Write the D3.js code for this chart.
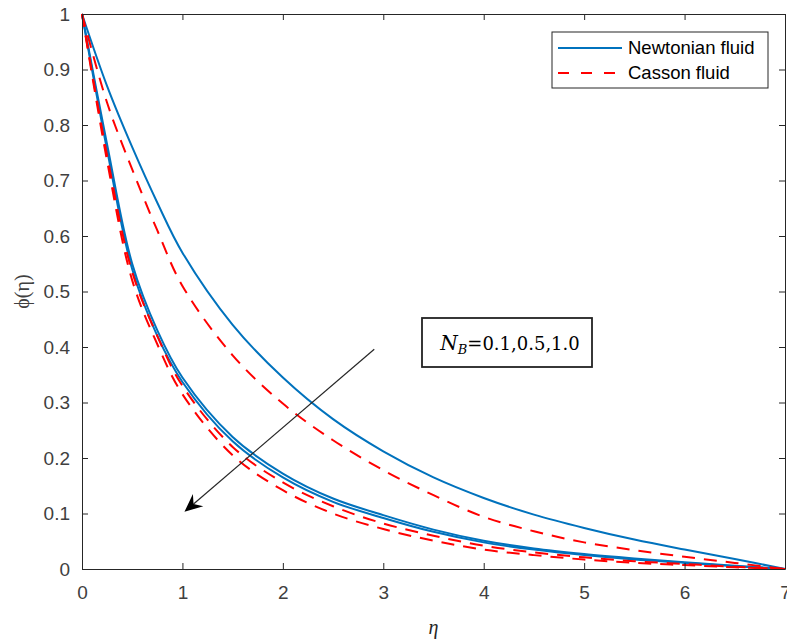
<!DOCTYPE html>
<html>
<head>
<meta charset="utf-8">
<script src="https://cdn.jsdelivr.net/npm/d3@7"></script>
<style>
  body { margin: 0; background: #fff; }
  svg { display: block; }
</style>
</head>
<body>
<svg id="chart" width="787" height="643"></svg>
<script>
// data
const eta = [0, 0.25, 0.5, 0.75, 1, 1.5, 2, 2.5, 3, 3.5, 4, 4.5, 5, 5.5, 6, 6.5, 7];

const newtonianNB01 = [1, 0.87, 0.76, 0.66, 0.57, 0.44, 0.345, 0.27, 0.212, 0.165, 0.128, 0.098, 0.074, 0.053, 0.035, 0.018, 0];
const newtonianNB05 = [1, 0.765, 0.55, 0.43, 0.345, 0.238, 0.172, 0.127, 0.097, 0.071, 0.051, 0.037, 0.027, 0.019, 0.012, 0.006, 0];
const newtonianNB10 = [1, 0.755, 0.54, 0.42, 0.337, 0.23, 0.165, 0.121, 0.092, 0.067, 0.048, 0.035, 0.025, 0.017, 0.011, 0.005, 0];

const cassonNB01 = [1, 0.84, 0.72, 0.61, 0.51, 0.385, 0.298, 0.232, 0.178, 0.133, 0.094, 0.068, 0.048, 0.034, 0.022, 0.011, 0];
const cassonNB05 = [1, 0.745, 0.535, 0.42, 0.33, 0.22, 0.156, 0.113, 0.082, 0.06, 0.042, 0.03, 0.021, 0.014, 0.009, 0.004, 0];
const cassonNB10 = [1, 0.735, 0.52, 0.405, 0.315, 0.205, 0.142, 0.10, 0.072, 0.051, 0.035, 0.025, 0.017, 0.011, 0.007, 0.003, 0];

const xTicks = [0, 1, 2, 3, 4, 5, 6, 7];
const yTicks = [0, 0.1, 0.2, 0.3, 0.4, 0.5, 0.6, 0.7, 0.8, 0.9, 1];

const legendLabels = ['Newtonian fluid', 'Casson fluid'];
// arrow in data coords [eta, phi]
const arrowFrom = [2.91, 0.396];
const arrowTo = [1.02, 0.103];

const blue = '#0072BD';
const red = '#FF0000';
const axisColor = '#262626';
const tickTextColor = '#404040';

const svg = d3.select('#chart');
const margin = { left: 82, right: 2, top: 14, bottom: 74 };
const width = 787, height = 643;

const x = d3.scaleLinear().domain([0, 7]).range([margin.left, width - margin.right]);
const y = d3.scaleLinear().domain([0, 1]).range([height - margin.bottom, margin.top]);

const plotG = svg.append('g');

// curves
const line = d3.line()
    .x(d => x(d[0]))
    .y(d => y(d[1]))
    .curve(d3.curveCatmullRom.alpha(0.5));

const series = [
    { vals: newtonianNB01, color: blue, dash: null },
    { vals: newtonianNB05, color: blue, dash: null },
    { vals: newtonianNB10, color: blue, dash: null },
    { vals: cassonNB01, color: red, dash: '13,9' },
    { vals: cassonNB05, color: red, dash: '13,9' },
    { vals: cassonNB10, color: red, dash: '13,9' },
];

plotG.selectAll('path.curve')
    .data(series)
    .join('path')
    .attr('class', 'curve')
    .attr('fill', 'none')
    .attr('stroke', d => d.color)
    .attr('stroke-width', 2)
    .attr('stroke-dasharray', d => d.dash)
    .attr('d', d => line(eta.map((e, i) => [e, d.vals[i]])));

// axes, ticks inward, box on
const tickLen = 6;
const fontSize = 19;

const styleAxis = g => {
    g.select('.domain').attr('stroke', axisColor).attr('stroke-width', 1);
    g.selectAll('.tick line').attr('stroke', axisColor);
    g.selectAll('.tick text')
        .attr('fill', tickTextColor)
        .style('font-family', 'Liberation Sans, Arial, sans-serif')
        .style('font-size', fontSize + 'px');
};

svg.append('g')
    .attr('transform', `translate(0, ${y(0)})`)
    .call(d3.axisBottom(x).tickValues(xTicks).tickFormat(d3.format('d'))
        .tickSizeInner(-tickLen).tickSizeOuter(0).tickPadding(17))
    .call(styleAxis);

svg.append('g')
    .attr('transform', `translate(${x(0)}, 0)`)
    .call(d3.axisLeft(y).tickValues(yTicks).tickFormat(d => d3.format('~g')(d))
        .tickSizeInner(-tickLen).tickSizeOuter(0).tickPadding(12))
    .call(styleAxis);

svg.append('g')
    .attr('transform', `translate(0, ${y(1)})`)
    .call(d3.axisTop(x).tickValues(xTicks).tickFormat('')
        .tickSizeInner(-tickLen).tickSizeOuter(0))
    .call(styleAxis);

svg.append('g')
    .attr('transform', `translate(${x(7)}, 0)`)
    .call(d3.axisRight(y).tickValues(yTicks).tickFormat('')
        .tickSizeInner(-tickLen).tickSizeOuter(0))
    .call(styleAxis);

// axis labels
svg.append('text')
    .attr('x', (x(0) + x(7)) / 2)
    .attr('y', 634)
    .attr('text-anchor', 'middle')
    .attr('fill', axisColor)
    .style('font-family', 'Liberation Serif, Times New Roman, serif')
    .style('font-style', 'italic')
    .style('font-size', '20px')
    .text('η');

svg.append('text')
    .attr('transform', `translate(29, ${(y(0) + y(1)) / 2}) rotate(-90)`)
    .attr('text-anchor', 'middle')
    .attr('fill', tickTextColor)
    .style('font-family', 'Liberation Serif, Times New Roman, serif')
    .style('font-size', '20px')
    .text('ϕ(η)');

// legend
const legG = svg.append('g').attr('transform', 'translate(552, 32)');
legG.append('rect')
    .attr('width', 216).attr('height', 56)
    .attr('fill', '#fff')
    .attr('stroke', axisColor)
    .attr('stroke-width', 1);
legendLabels.forEach((lab, i) => {
    const ly = 16 + i * 25;
    legG.append('line')
        .attr('x1', 6).attr('x2', 70)
        .attr('y1', ly).attr('y2', ly)
        .attr('stroke', i === 0 ? blue : red)
        .attr('stroke-width', 2)
        .attr('stroke-dasharray', i === 0 ? null : '11,12');
    legG.append('text')
        .attr('x', 76).attr('y', ly)
        .attr('dy', '0.35em')
        .attr('fill', '#000')
        .style('font-family', 'Liberation Sans, Arial, sans-serif')
        .style('font-size', '18.5px')
        .text(lab);
});

// arrow annotation
const ax1 = x(arrowFrom[0]), ay1 = y(arrowFrom[1]);
const ax2 = x(arrowTo[0]), ay2 = y(arrowTo[1]);
const ang = Math.atan2(ay2 - ay1, ax2 - ax1);
const headLen = 18, headW = 8, notch = 6;
svg.append('line')
    .attr('x1', ax1).attr('y1', ay1)
    .attr('x2', ax2 - Math.cos(ang) * (headLen - notch)).attr('y2', ay2 - Math.sin(ang) * (headLen - notch))
    .attr('stroke', axisColor)
    .attr('stroke-width', 1.2);
const rot = (px, py) => [ax2 + px * Math.cos(ang) - py * Math.sin(ang), ay2 + px * Math.sin(ang) + py * Math.cos(ang)];
const headPts = [rot(0, 0), rot(-headLen, -headW), rot(-headLen + notch, 0), rot(-headLen, headW)];
svg.append('path')
    .attr('d', 'M' + headPts.map(p => p.join(',')).join('L') + 'Z')
    .attr('fill', '#000');

// N_B annotation box
const boxG = svg.append('g').attr('transform', 'translate(422, 318)');
boxG.append('rect')
    .attr('width', 170).attr('height', 49)
    .attr('fill', '#fff')
    .attr('stroke', '#222')
    .attr('stroke-width', 1.8);
const nbText = boxG.append('text')
    .attr('x', 88).attr('y', 32)
    .attr('text-anchor', 'middle')
    .attr('fill', '#000')
    .style('font-family', 'DejaVu Serif, Liberation Serif, serif')
    .style('font-size', '18px');
nbText.append('tspan').style('font-style', 'italic').style('font-size', '20px').text('N');
nbText.append('tspan').style('font-style', 'italic').style('font-size', '13px').attr('dy', 4).text('B');
nbText.append('tspan').attr('dy', -4).text('=0.1,0.5,1.0');
</script>
</body>
</html>
